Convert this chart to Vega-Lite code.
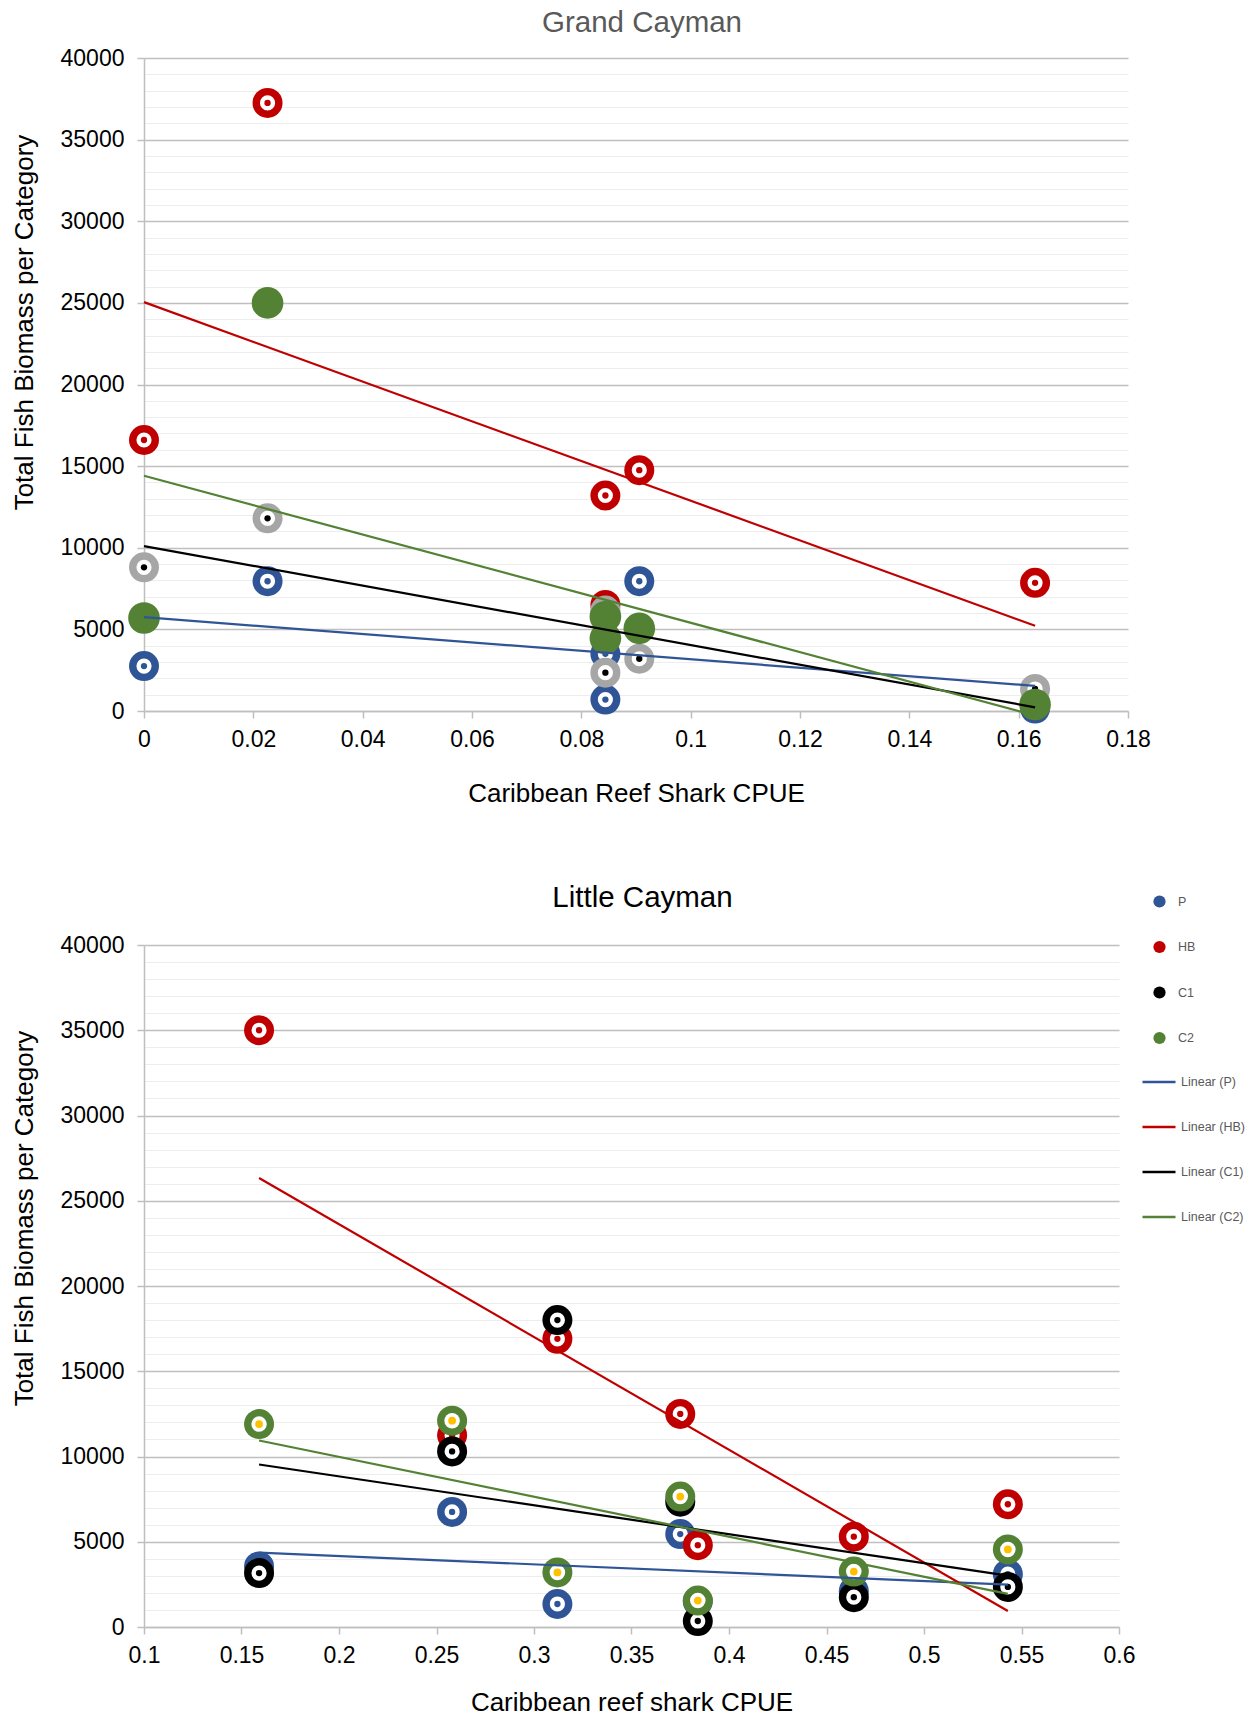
{
  "$schema": "https://vega.github.io/schema/vega-lite/v6.json",
  "padding": {"left": 10, "top": 7, "right": 0, "bottom": 0},
  "background": "white",
  "datasets": {
    "grand": [
      {"cpue": 0, "biomass": 2750, "series": "P", "trend": "Linear (P)"},
      {"cpue": 0.0226, "biomass": 7950, "series": "P", "trend": "Linear (P)"},
      {"cpue": 0.0844, "biomass": 700, "series": "P", "trend": "Linear (P)"},
      {"cpue": 0.0844, "biomass": 3500, "series": "P", "trend": "Linear (P)"},
      {"cpue": 0.0906, "biomass": 7950, "series": "P", "trend": "Linear (P)"},
      {"cpue": 0.163, "biomass": 150, "series": "P", "trend": "Linear (P)"},
      {"cpue": 0, "biomass": 16600, "series": "HB", "trend": "Linear (HB)"},
      {"cpue": 0.0226, "biomass": 37250, "series": "HB", "trend": "Linear (HB)"},
      {"cpue": 0.0844, "biomass": 13200, "series": "HB", "trend": "Linear (HB)"},
      {"cpue": 0.0844, "biomass": 6500, "series": "HB", "trend": "Linear (HB)"},
      {"cpue": 0.0906, "biomass": 14750, "series": "HB", "trend": "Linear (HB)"},
      {"cpue": 0.163, "biomass": 7850, "series": "HB", "trend": "Linear (HB)"},
      {"cpue": 0, "biomass": 8800, "series": "C1", "trend": "Linear (C1)"},
      {"cpue": 0.0226, "biomass": 11800, "series": "C1", "trend": "Linear (C1)"},
      {"cpue": 0.0844, "biomass": 2350, "series": "C1", "trend": "Linear (C1)"},
      {"cpue": 0.0844, "biomass": 6150, "series": "C1", "trend": "Linear (C1)"},
      {"cpue": 0.0906, "biomass": 3200, "series": "C1", "trend": "Linear (C1)"},
      {"cpue": 0.163, "biomass": 1350, "series": "C1", "trend": "Linear (C1)"},
      {"cpue": 0, "biomass": 5700, "series": "C2", "trend": "Linear (C2)"},
      {"cpue": 0.0226, "biomass": 25000, "series": "C2", "trend": "Linear (C2)"},
      {"cpue": 0.0844, "biomass": 5770, "series": "C2", "trend": "Linear (C2)"},
      {"cpue": 0.0844, "biomass": 4450, "series": "C2", "trend": "Linear (C2)"},
      {"cpue": 0.0906, "biomass": 5060, "series": "C2", "trend": "Linear (C2)"},
      {"cpue": 0.163, "biomass": 400, "series": "C2", "trend": "Linear (C2)"}
    ],
    "little": [
      {"cpue": 0.159, "biomass": 3550, "series": "P", "trend": "Linear (P)"},
      {"cpue": 0.258, "biomass": 6750, "series": "P", "trend": "Linear (P)"},
      {"cpue": 0.312, "biomass": 1350, "series": "P", "trend": "Linear (P)"},
      {"cpue": 0.375, "biomass": 5450, "series": "P", "trend": "Linear (P)"},
      {"cpue": 0.384, "biomass": 1500, "series": "P", "trend": "Linear (P)"},
      {"cpue": 0.464, "biomass": 2100, "series": "P", "trend": "Linear (P)"},
      {"cpue": 0.543, "biomass": 3100, "series": "P", "trend": "Linear (P)"},
      {"cpue": 0.159, "biomass": 35000, "series": "HB", "trend": "Linear (HB)"},
      {"cpue": 0.258, "biomass": 11250, "series": "HB", "trend": "Linear (HB)"},
      {"cpue": 0.312, "biomass": 16900, "series": "HB", "trend": "Linear (HB)"},
      {"cpue": 0.375, "biomass": 12500, "series": "HB", "trend": "Linear (HB)"},
      {"cpue": 0.384, "biomass": 4800, "series": "HB", "trend": "Linear (HB)"},
      {"cpue": 0.464, "biomass": 5300, "series": "HB", "trend": "Linear (HB)"},
      {"cpue": 0.543, "biomass": 7200, "series": "HB", "trend": "Linear (HB)"},
      {"cpue": 0.159, "biomass": 3160, "series": "C1", "trend": "Linear (C1)"},
      {"cpue": 0.258, "biomass": 10300, "series": "C1", "trend": "Linear (C1)"},
      {"cpue": 0.312, "biomass": 18000, "series": "C1", "trend": "Linear (C1)"},
      {"cpue": 0.375, "biomass": 7350, "series": "C1", "trend": "Linear (C1)"},
      {"cpue": 0.384, "biomass": 350, "series": "C1", "trend": "Linear (C1)"},
      {"cpue": 0.464, "biomass": 1750, "series": "C1", "trend": "Linear (C1)"},
      {"cpue": 0.543, "biomass": 2350, "series": "C1", "trend": "Linear (C1)"},
      {"cpue": 0.159, "biomass": 11900, "series": "C2", "trend": "Linear (C2)"},
      {"cpue": 0.258, "biomass": 12100, "series": "C2", "trend": "Linear (C2)"},
      {"cpue": 0.312, "biomass": 3200, "series": "C2", "trend": "Linear (C2)"},
      {"cpue": 0.375, "biomass": 7650, "series": "C2", "trend": "Linear (C2)"},
      {"cpue": 0.384, "biomass": 1550, "series": "C2", "trend": "Linear (C2)"},
      {"cpue": 0.464, "biomass": 3250, "series": "C2", "trend": "Linear (C2)"},
      {"cpue": 0.543, "biomass": 4550, "series": "C2", "trend": "Linear (C2)"}
    ]
  },
  "spacing": 76,
  "resolve": {"scale": {"color": "independent", "stroke": "independent", "x": "independent", "y": "independent"}, "legend": {"color": "independent", "stroke": "independent"}},
  "vconcat": [
    {
      "width": 984,
      "height": 653,
      "data": {"name": "grand"},
      "title": {"text": "Grand Cayman", "color": "#595959", "fontSize": 29.5, "font": "Liberation Sans", "fontWeight": "normal", "anchor": "middle", "frame": "group", "offset": 9, "dx": 6},
      "encoding": {
        "x": {"field": "cpue", "type": "quantitative", "scale": {"domain": [0, 0.18], "nice": false, "zero": false},
          "axis": {"title": "Caribbean Reef Shark CPUE", "values": [0, 0.02, 0.04, 0.06, 0.08, 0.1, 0.12, 0.14, 0.16, 0.18], "format": "~g", "grid": false, "labelPadding": 10, "titlePadding": 29, "labelFlush": false, "labelOverlap": false}},
        "y": {"field": "biomass", "type": "quantitative", "scale": {"domain": [0, 40000], "nice": false},
          "axis": {"title": "Total Fish Biomass per Category",
            "values": [0,1000,2000,3000,4000,5000,6000,7000,8000,9000,10000,11000,12000,13000,14000,15000,16000,17000,18000,19000,20000,21000,22000,23000,24000,25000,26000,27000,28000,29000,30000,31000,32000,33000,34000,35000,36000,37000,38000,39000,40000],
            "format": "d", "labelExpr": "datum.value % 5000 === 0 ? datum.label : ''",
            "gridColor": {"condition": {"test": "datum.value % 5000 === 0", "value": "#BFBFBF"}, "value": "#EDEDED"},
            "gridWidth": {"condition": {"test": "datum.value % 5000 === 0", "value": 1.5}, "value": 1},
            "tickOpacity": {"condition": {"test": "datum.value % 5000 === 0", "value": 1}, "value": 0},
            "labelPadding": 13, "labelOverlap": false, "labelFlush": false,
            "titleX": -120, "titleY": 264, "titleAngle": -90, "titleAlign": "center", "titleBaseline": "middle"}}
      },
      "layer": [
        {"transform": [{"filter": "datum.series === 'P'"}], "layer": [
          {"mark": {"type": "circle", "size": 900, "opacity": 1}, "encoding": {"color": {"field": "series", "type": "nominal", "legend": null, "scale": {"domain": ["P", "HB", "C1", "C2"], "range": ["#2F5597", "#C00000", "#A6A6A6", "#548235"]}}}},
          {"mark": {"type": "circle", "size": 230, "opacity": 1, "color": "#FFFFFF"}},
          {"mark": {"type": "circle", "size": 40, "opacity": 1, "color": "#2F5597"}}
        ]},
        {"transform": [{"filter": "datum.series === 'HB'"}], "layer": [
          {"mark": {"type": "circle", "size": 900, "opacity": 1}, "encoding": {"color": {"field": "series", "type": "nominal", "legend": null}}},
          {"mark": {"type": "circle", "size": 230, "opacity": 1, "color": "#FFFFFF"}},
          {"mark": {"type": "circle", "size": 40, "opacity": 1, "color": "#C00000"}}
        ]},
        {"transform": [{"filter": "datum.series === 'C1'"}], "layer": [
          {"mark": {"type": "circle", "size": 900, "opacity": 1}, "encoding": {"color": {"field": "series", "type": "nominal", "legend": null}}},
          {"mark": {"type": "circle", "size": 230, "opacity": 1, "color": "#FFFFFF"}},
          {"mark": {"type": "circle", "size": 40, "opacity": 1, "color": "#000000"}}
        ]},
        {"transform": [{"filter": "datum.series === 'C2'"}], "layer": [
          {"mark": {"type": "circle", "size": 1000, "opacity": 1}, "encoding": {"color": {"field": "series", "type": "nominal", "legend": null}}}
        ]},
        {"transform": [{"regression": "biomass", "on": "cpue", "groupby": ["trend"]}],
          "mark": {"type": "line", "strokeWidth": 2.2},
          "encoding": {"stroke": {"field": "trend", "type": "nominal", "legend": null, "scale": {"domain": ["Linear (P)", "Linear (HB)", "Linear (C1)", "Linear (C2)"], "range": ["#2F5597", "#C00000", "#000000", "#548235"]}}}}
      ]
    },
    {
      "width": 975,
      "height": 682,
      "data": {"name": "little"},
      "title": {"text": "Little Cayman", "color": "#000000", "fontSize": 29.5, "font": "Liberation Sans", "fontWeight": "normal", "anchor": "middle", "frame": "group", "offset": -18, "dx": 11},
      "encoding": {
        "x": {"field": "cpue", "type": "quantitative", "scale": {"domain": [0.1, 0.6], "nice": false, "zero": false},
          "axis": {"title": "Caribbean reef shark CPUE", "values": [0.1, 0.15, 0.2, 0.25, 0.3, 0.35, 0.4, 0.45, 0.5, 0.55, 0.6], "format": "~g", "grid": false, "labelPadding": 10, "titlePadding": 22, "labelFlush": false, "labelOverlap": false}},
        "y": {"field": "biomass", "type": "quantitative", "scale": {"domain": [0, 40000], "nice": false},
          "axis": {"title": "Total Fish Biomass per Category",
            "values": [0,1000,2000,3000,4000,5000,6000,7000,8000,9000,10000,11000,12000,13000,14000,15000,16000,17000,18000,19000,20000,21000,22000,23000,24000,25000,26000,27000,28000,29000,30000,31000,32000,33000,34000,35000,36000,37000,38000,39000,40000],
            "format": "d", "labelExpr": "datum.value % 5000 === 0 ? datum.label : ''",
            "gridColor": {"condition": {"test": "datum.value % 5000 === 0", "value": "#BFBFBF"}, "value": "#EDEDED"},
            "gridWidth": {"condition": {"test": "datum.value % 5000 === 0", "value": 1.5}, "value": 1},
            "tickOpacity": {"condition": {"test": "datum.value % 5000 === 0", "value": 1}, "value": 0},
            "labelPadding": 13, "labelOverlap": false, "labelFlush": false,
            "titleX": -120, "titleY": 273, "titleAngle": -90, "titleAlign": "center", "titleBaseline": "middle"}}
      },
      "layer": [
        {"transform": [{"filter": "datum.series === 'P'"}], "layer": [
          {"mark": {"type": "circle", "size": 900, "opacity": 1}, "encoding": {"color": {"field": "series", "type": "nominal",
            "scale": {"domain": ["P", "HB", "C1", "C2"], "range": ["#2F5597", "#C00000", "#000000", "#548235"]},
            "legend": {"orient": "none", "legendX": 1009, "legendY": -50, "title": null, "padding": 0, "symbolType": "circle", "symbolSize": 150, "symbolOpacity": 1, "symbolStrokeWidth": 0, "labelOffset": 12, "rowPadding": 32.5, "labelFont": "Liberation Sans", "labelFontSize": 12.5, "labelColor": "#595959", "direction": "vertical"}}}},
          {"mark": {"type": "circle", "size": 230, "opacity": 1, "color": "#FFFFFF"}},
          {"mark": {"type": "circle", "size": 40, "opacity": 1, "color": "#2F5597"}}
        ]},
        {"transform": [{"filter": "datum.series === 'HB'"}], "layer": [
          {"mark": {"type": "circle", "size": 900, "opacity": 1}, "encoding": {"color": {"field": "series", "type": "nominal"}}},
          {"mark": {"type": "circle", "size": 230, "opacity": 1, "color": "#FFFFFF"}},
          {"mark": {"type": "circle", "size": 40, "opacity": 1, "color": "#C00000"}}
        ]},
        {"transform": [{"filter": "datum.series === 'C1'"}], "layer": [
          {"mark": {"type": "circle", "size": 900, "opacity": 1}, "encoding": {"color": {"field": "series", "type": "nominal"}}},
          {"mark": {"type": "circle", "size": 230, "opacity": 1, "color": "#FFFFFF"}},
          {"mark": {"type": "circle", "size": 40, "opacity": 1, "color": "#000000"}}
        ]},
        {"transform": [{"filter": "datum.series === 'C2'"}], "layer": [
          {"mark": {"type": "circle", "size": 900, "opacity": 1}, "encoding": {"color": {"field": "series", "type": "nominal"}}},
          {"mark": {"type": "circle", "size": 240, "opacity": 1, "color": "#FFFFFF"}},
          {"mark": {"type": "circle", "size": 60, "opacity": 1, "color": "#FFC000"}}
        ]},
        {"transform": [{"regression": "biomass", "on": "cpue", "groupby": ["trend"]}],
          "mark": {"type": "line", "strokeWidth": 2.2},
          "encoding": {"stroke": {"field": "trend", "type": "nominal",
            "scale": {"domain": ["Linear (P)", "Linear (HB)", "Linear (C1)", "Linear (C2)"], "range": ["#2F5597", "#C00000", "#000000", "#548235"]},
            "legend": {"orient": "none", "legendX": 997, "legendY": 119, "title": null, "padding": 0, "symbolType": "stroke", "symbolSize": 1089, "symbolStrokeWidth": 2.5, "labelOffset": 4, "rowPadding": 20, "labelFont": "Liberation Sans", "labelFontSize": 12.5, "labelColor": "#595959", "direction": "vertical"}}}}
      ]
    }
  ],
  "config": {
    "view": {"stroke": null},
    "font": "Liberation Sans",
    "axis": {
      "labelFont": "Liberation Sans", "labelFontSize": 23, "labelColor": "#000000",
      "titleFont": "Liberation Sans", "titleFontSize": 26, "titleFontWeight": "normal", "titleColor": "#000000",
      "domainColor": "#BFBFBF", "domainWidth": 1.5, "tickColor": "#BFBFBF", "tickSize": 7, "tickWidth": 1.5
    }
  }
}
